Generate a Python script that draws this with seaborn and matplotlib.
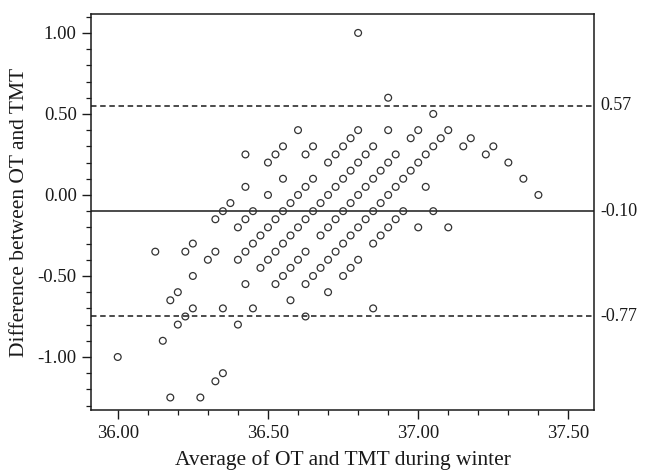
import numpy as np
import pandas as pd
import matplotlib
matplotlib.use('Agg')
import matplotlib.pyplot as plt
import seaborn as sns
from matplotlib.ticker import MultipleLocator, FormatStrFormatter

# difference levels (y) and the averages (x) found at each level
diff_levels = [1.00, 0.60, 0.50, 0.40, 0.35, 0.30, 0.25, 0.20, 0.15, 0.10, 0.05, 0.00,
               -0.05, -0.10, -0.15, -0.20, -0.25, -0.30, -0.35, -0.40, -0.45, -0.50,
               -0.55, -0.60, -0.65, -0.70, -0.75, -0.80, -0.90, -1.00, -1.10, -1.15, -1.25]
avg_rows = [
    [36.80],
    [36.90],
    [37.05],
    [36.60, 36.80, 36.90, 37.00, 37.10],
    [36.775, 36.975, 37.075, 37.175],
    [36.55, 36.65, 36.75, 36.85, 37.05, 37.15, 37.25],
    [36.425, 36.525, 36.625, 36.725, 36.825, 36.925, 37.025, 37.225],
    [36.50, 36.70, 36.80, 36.90, 37.00, 37.30],
    [36.775, 36.875, 36.975],
    [36.55, 36.65, 36.75, 36.85, 36.95, 37.35],
    [36.425, 36.625, 36.725, 36.825, 36.925, 37.025],
    [36.50, 36.60, 36.70, 36.80, 36.90, 37.40],
    [36.375, 36.575, 36.675, 36.775, 36.875],
    [36.35, 36.45, 36.55, 36.65, 36.75, 36.85, 36.95, 37.05],
    [36.325, 36.425, 36.525, 36.625, 36.725, 36.825, 36.925],
    [36.40, 36.50, 36.60, 36.70, 36.80, 36.90, 37.00, 37.10],
    [36.475, 36.575, 36.675, 36.775, 36.875],
    [36.25, 36.45, 36.55, 36.75, 36.85],
    [36.125, 36.225, 36.325, 36.425, 36.525, 36.625, 36.725],
    [36.30, 36.40, 36.50, 36.60, 36.70, 36.80],
    [36.475, 36.575, 36.675, 36.775],
    [36.25, 36.55, 36.65, 36.75],
    [36.425, 36.525, 36.625],
    [36.20, 36.70],
    [36.175, 36.575],
    [36.25, 36.35, 36.45, 36.85],
    [36.225, 36.625],
    [36.20, 36.40],
    [36.15],
    [36.00],
    [36.35],
    [36.325],
    [36.175, 36.275],
]

# mean and limits of agreement (line position, printed label, style)
ref_y = [0.55, -0.10, -0.75]
ref_labels = ['0.57', '-0.10', '-0.77']
ref_styles = [(0, (3.6, 2.4)), '-', (0, (3.6, 2.4))]

rows = [(a, d) for d, xs in zip(diff_levels, avg_rows) for a in xs]
df = pd.DataFrame(rows, columns=['avg', 'diff'])

sns.set_theme(style='ticks')
plt.rcParams['font.family'] = ['Liberation Serif', 'DejaVu Serif']
plt.rcParams['axes.unicode_minus'] = False

fig = plt.figure(figsize=(6.46, 4.70), dpi=100)
ax = fig.add_axes([0.1413, 0.1277, 0.7782, 0.8426])

sns.scatterplot(data=df, x='avg', y='diff', ax=ax, marker='o', s=24,
                facecolor='none', edgecolor='#333333', linewidth=0.9, zorder=3)

for y, lab, ls in zip(ref_y, ref_labels, ref_styles):
    ax.axhline(y, color='#1a1a1a', lw=1.1, ls=ls, zorder=2)
    ax.text(1.012, y, lab, transform=ax.get_yaxis_transform(), ha='left',
            va='center', fontsize=13, color='#1a1a1a')

ax.set_xlim(35.912, 37.585)
ax.set_ylim(-1.327, 1.117)
ax.xaxis.set_major_locator(MultipleLocator(0.5))
ax.xaxis.set_minor_locator(MultipleLocator(0.1))
ax.yaxis.set_major_locator(MultipleLocator(0.5))
ax.yaxis.set_minor_locator(MultipleLocator(0.1))
ax.xaxis.set_major_formatter(FormatStrFormatter('%.2f'))
ax.yaxis.set_major_formatter(FormatStrFormatter('%.2f'))
ax.tick_params(which='major', length=6.5, width=1, direction='out', labelsize=13.5,
               colors='#1a1a1a', pad=4)
ax.tick_params(which='minor', length=3.6, width=0.9, direction='out', colors='#1a1a1a')
ax.tick_params(top=False, right=False, which='both')
for sp in ax.spines.values():
    sp.set_color('#1a1a1a')
    sp.set_linewidth(1.1)

ax.set_xlabel('Average of OT and TMT during winter', fontsize=15.5, color='#1a1a1a', labelpad=6)
ax.set_ylabel('Difference between OT and TMT', fontsize=15.5, color='#1a1a1a', labelpad=6)

fig.savefig('out.png', dpi=100)
